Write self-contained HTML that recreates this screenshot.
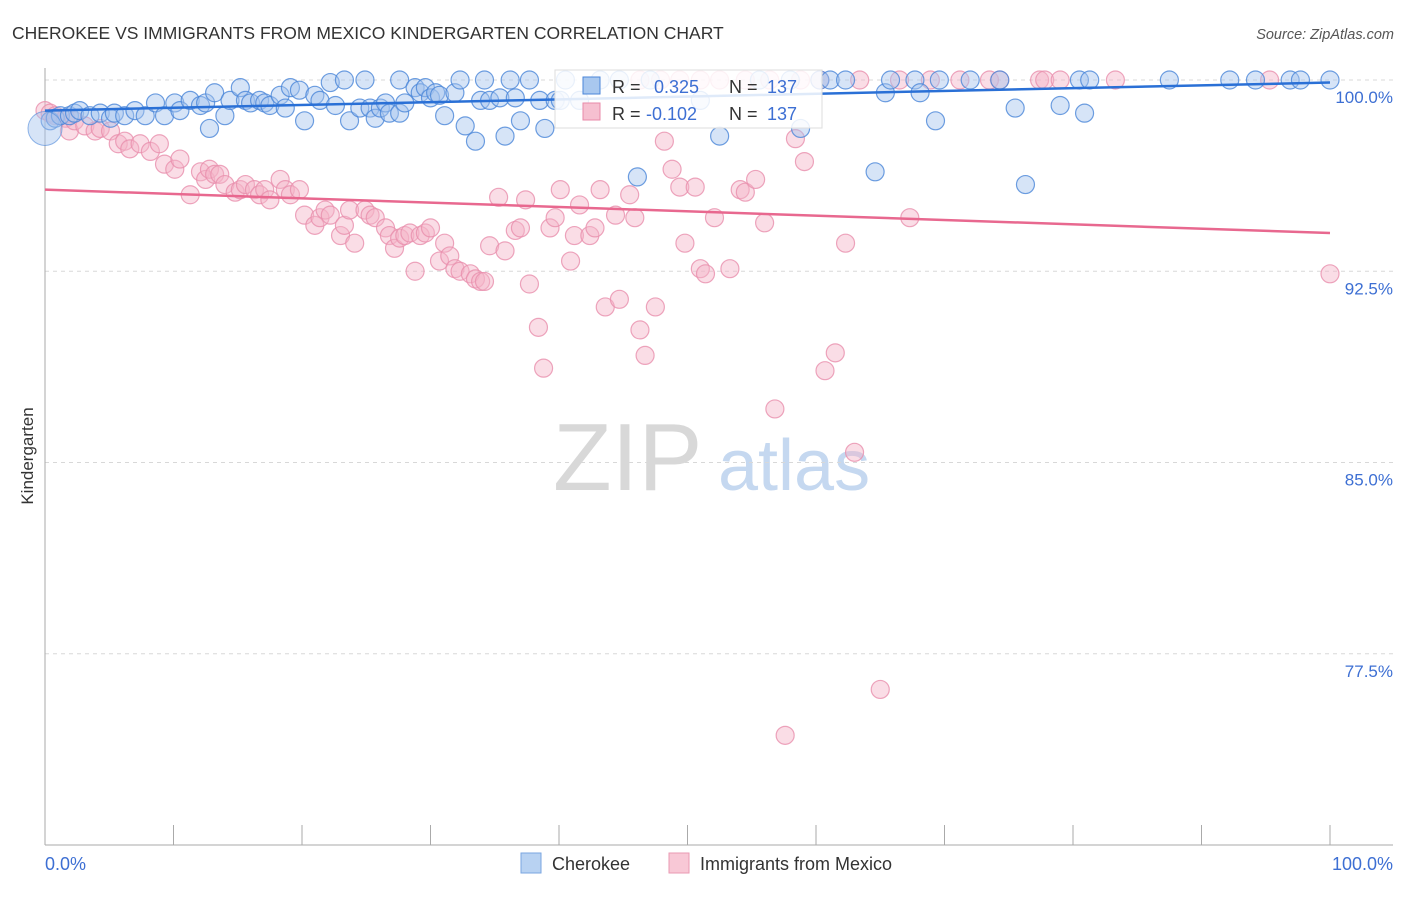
<!DOCTYPE html>
<html><head><meta charset="utf-8"><style>
body{margin:0;background:#fff;font-family:"Liberation Sans",sans-serif}
svg text{font-family:"Liberation Sans",sans-serif}
</style></head><body>
<svg id="chart" width="1406" height="892" xmlns="http://www.w3.org/2000/svg">
<text x="12" y="39" font-size="17.5" fill="#333">CHEROKEE VS IMMIGRANTS FROM MEXICO KINDERGARTEN CORRELATION CHART</text>
<text x="1394" y="39" font-size="14.5" fill="#555" text-anchor="end" font-style="italic">Source: ZipAtlas.com</text>
<g>
<text x="553" y="490" font-size="96" fill="#d8d8d8" font-family="Liberation Serif, serif">ZIP</text>
<text x="718" y="490" font-size="72" fill="#c5d8f0">atlas</text>
</g>
<g id="grid"></g>
<g id="axes"></g>
<g id="pink"></g>
<g id="blue"></g>
<g id="trends"></g>
<g>
<rect x="555" y="70" width="267" height="58" fill="#fff" fill-opacity="0.85" stroke="#ddd"/>
<rect x="583" y="77" width="17" height="17" fill="#a9c8ef" stroke="#4a86d8"/>
<text x="612" y="93" font-size="18" fill="#333">R = </text><text x="654" y="93" font-size="18" fill="#3d6fd3">0.325</text>
<text x="729" y="93" font-size="18" fill="#333">N = </text><text x="767" y="93" font-size="18" fill="#3d6fd3">137</text>
<rect x="583" y="103" width="17" height="17" fill="#f6c0d0" stroke="#e88aa8"/>
<text x="612" y="120" font-size="18" fill="#333">R = </text><text x="646" y="120" font-size="18" fill="#3d6fd3">-0.102</text>
<text x="729" y="120" font-size="18" fill="#333">N = </text><text x="767" y="120" font-size="18" fill="#3d6fd3">137</text>
</g>
<g>
<rect x="521" y="853" width="20" height="20" fill="#b8d2f2" stroke="#7aa6e0"/>
<text x="552" y="870" font-size="18" fill="#333">Cherokee</text>
<rect x="669" y="853" width="20" height="20" fill="#f8c8d6" stroke="#ea9ab3"/>
<text x="700" y="870" font-size="18" fill="#333">Immigrants from Mexico</text>
</g>
<text transform="translate(33,456) rotate(-90)" font-size="17" fill="#333" text-anchor="middle">Kindergarten</text>
<text x="45" y="870" font-size="18" fill="#3d6fd3">0.0%</text>
<text x="1393" y="870" font-size="18" fill="#3d6fd3" text-anchor="end">100.0%</text>
</svg>
<script>
const yTicks=[100,92.5,85,77.5];
const yTickLabels=["100.0%","92.5%","85.0%","77.5%"];
const xTicks=[0,10,20,30,40,50,60,70,80,90,100];
const blueX=[0.4,0.8,1.2,1.9,2.3,2.7,3.5,4.3,5.1,5.4,6.2,7.0,7.8,8.6,9.3,10.1,10.5,11.3,12.1,12.5,12.8,13.2,14.0,14.4,15.2,15.6,16.0,16.7,17.1,17.5,18.3,18.7,19.1,19.8,20.2,21.0,21.4,22.2,22.6,23.3,23.7,24.5,24.9,25.3,25.7,26.1,26.5,26.8,27.6,27.6,28.0,28.8,29.2,29.6,30.0,30.4,30.7,31.1,31.9,32.3,32.7,33.5,33.9,34.2,34.6,35.4,35.8,36.2,36.6,37.0,37.7,38.5,38.9,39.7,40.1,40.5,41.6,43.2,44.7,46.1,47.1,51.0,52.5,55.6,58.0,58.8,60.3,61.1,62.3,64.6,65.4,65.8,67.7,68.1,69.3,69.6,72.0,74.3,75.5,76.3,79.0,80.5,80.9,81.3,87.5,92.2,94.2,96.9,97.7,100];
const blueY=[98.4,98.5,98.6,98.6,98.7,98.8,98.6,98.7,98.5,98.7,98.6,98.8,98.6,99.1,98.6,99.1,98.8,99.2,99.0,99.1,98.1,99.5,98.6,99.2,99.7,99.2,99.1,99.2,99.1,99.0,99.4,98.9,99.7,99.6,98.4,99.4,99.2,99.9,99.0,100,98.4,98.9,100,98.9,98.5,98.9,99.1,98.7,98.7,100,99.1,99.7,99.5,99.7,99.3,99.5,99.4,98.6,99.5,100,98.2,97.6,99.2,100,99.2,99.3,97.8,100,99.3,98.4,100,99.2,98.1,99.2,99.2,100,99.2,100,100,96.2,100,99.2,97.8,100,100,98.1,100,100,100,96.4,99.5,100,100,99.5,98.4,100,100,100,98.9,95.9,99.0,100,98.7,100,100,100,100,100,100,100];
const pinkX=[0,0.4,0.8,1.6,1.9,2.3,3.1,3.9,4.3,5.1,5.7,6.2,6.6,7.4,8.2,8.9,9.3,10.1,10.5,11.3,12.1,12.5,12.8,13.2,13.6,14.0,14.8,15.2,15.6,16.3,16.7,17.1,17.5,18.3,18.7,19.1,19.8,20.2,21.0,21.4,21.8,22.2,23.0,23.3,23.7,24.1,24.9,25.3,25.7,26.5,26.8,27.2,27.6,28.0,28.4,28.8,29.2,29.6,30.0,30.7,31.1,31.5,31.9,32.3,33.1,33.5,33.9,34.2,34.6,35.3,35.8,36.6,37.0,37.4,37.7,38.4,38.8,39.3,39.7,40.1,40.9,41.2,41.6,42.4,42.8,43.2,43.6,44.4,44.7,45.5,45.9,46.3,46.7,47.5,48.2,48.8,49.4,49.8,50.6,51.0,51.4,52.1,53.3,54.1,54.5,55.3,56.0,56.8,57.6,58.4,59.1,60.7,61.5,62.3,63.0,65.0,67.3,100,46.3,47.9,49.4,51.0,52.5,54.5,56.4,58.8,60.3,63.4,66.5,68.9,71.2,73.5,74.3,77.4,77.8,79.0,83.3,95.3];
const pinkY=[98.8,98.7,98.6,98.5,98.0,98.4,98.2,98.0,98.1,98.0,97.5,97.6,97.3,97.5,97.2,97.5,96.7,96.5,96.9,95.5,96.4,96.1,96.5,96.3,96.3,95.9,95.6,95.7,95.9,95.7,95.5,95.7,95.3,96.1,95.7,95.5,95.7,94.7,94.3,94.6,94.9,94.7,93.9,94.3,94.9,93.6,94.9,94.7,94.6,94.2,93.9,93.4,93.8,93.9,94.0,92.5,93.9,94.0,94.2,92.9,93.6,93.1,92.6,92.5,92.4,92.2,92.1,92.1,93.5,95.4,93.3,94.1,94.2,95.3,92.0,90.3,88.7,94.2,94.6,95.7,92.9,93.9,95.1,93.9,94.2,95.7,91.1,94.7,91.4,95.5,94.6,90.2,89.2,91.1,97.6,96.5,95.8,93.6,95.8,92.6,92.4,94.6,92.6,95.7,95.6,96.1,94.4,87.1,74.3,97.7,96.8,88.6,89.3,93.6,85.4,76.1,94.6,92.4,100,100,100,100,100,100,100,100,100,100,100,100,100,100,100,100,100,100,100,100];
const blueTrend=[98.8,99.9];
const pinkTrend=[95.7,94.0];
const NS="http://www.w3.org/2000/svg";
const X0=45,X1=1330,YT=80,YB=845;
function xs(v){return X0+(X1-X0)*v/100;}
function ys(v){return YB-(YB-YT)*(v-70)/30;}
function mk(tag,attrs,parent){const e=document.createElementNS(NS,tag);for(const k in attrs)e.setAttribute(k,attrs[k]);parent.appendChild(e);return e;}
const grid=document.getElementById('grid'),axes=document.getElementById('axes');
yTicks.forEach((t,i)=>{
 const l=mk('line',{x1:X0,x2:1393,y1:ys(t),y2:ys(t),stroke:'#d8d8d8','stroke-dasharray':'4,4'},grid);
 
 
 const tx=mk('text',{x:1393,y:ys(t)+23,'font-size':17,fill:'#3d6fd3','text-anchor':'end'},axes);
 tx.textContent=yTickLabels[i];
 
 
});
const ya=mk('line',{x1:X0,x2:X0,y1:68,y2:YB,stroke:'#aaa'},axes);


const xa=mk('line',{x1:X0,x2:1393,y1:YB,y2:YB,stroke:'#aaa'},axes);


xTicks.forEach(t=>{
 const l=mk('line',{x1:xs(t),x2:xs(t),y1:YB,y2:YB-20,stroke:'#aaa'},axes);
 
 
});
function dots(gx,gy,id,fill,stroke,name){
 const g=document.getElementById(id);
 gx.forEach((v,i)=>{
  const c=mk('circle',{cx:xs(v),cy:ys(gy[i]),r:9,fill:fill,'fill-opacity':0.45,stroke:stroke,'stroke-width':1.2,'stroke-opacity':0.8},g);
  
  
 });
}
dots(pinkX,pinkY,'pink','#f5b3c8','#e98fac','mexico-point');
dots(blueX,blueY,'blue','#a3c4ee','#4a86d8','cherokee-point');
const big=mk('circle',{cx:xs(0),cy:ys(98.1),r:17,fill:'#a3c4ee','fill-opacity':0.45,stroke:'#4a86d8','stroke-opacity':0.6},document.getElementById('blue'));


const tr=document.getElementById('trends');
const bl=mk('line',{x1:xs(0),x2:xs(100),y1:ys(blueTrend[0]),y2:ys(blueTrend[1]),stroke:'#2a70d6','stroke-width':2.5},tr);


const pl=mk('line',{x1:xs(0),x2:xs(100),y1:ys(pinkTrend[0]),y2:ys(pinkTrend[1]),stroke:'#e8688f','stroke-width':2.5},tr);


</script>
</body></html>
